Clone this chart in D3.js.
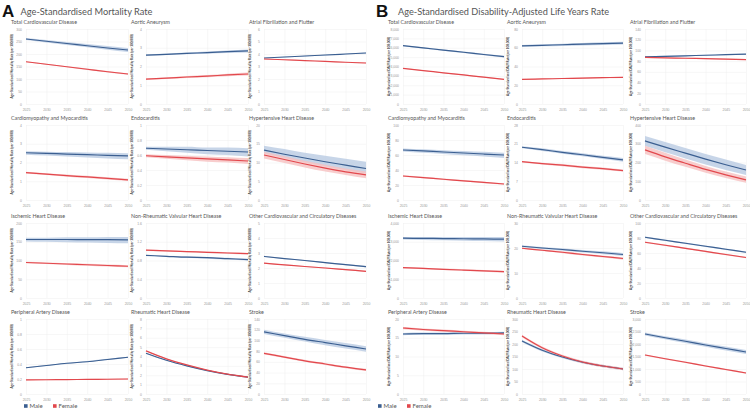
<!DOCTYPE html>
<html>
<head>
<meta charset="utf-8">
<script src="https://cdn.jsdelivr.net/npm/d3@7"></script>
<style>
  body { margin: 0; background: #fff; }
  svg { display: block; font-family: Lato, "Open Sans", sans-serif; }
</style>
</head>
<body>
<svg id="chart" width="750" height="411"></svg>
<script>
const years = [2025, 2030, 2035, 2040, 2045, 2050];

const causes = [
  "Total Cardiovascular Disease", "Aortic Aneurysm", "Atrial Fibrillation and Flutter",
  "Cardiomyopathy and Myocarditis", "Endocarditis", "Hypertensive Heart Disease",
  "Ischemic Heart Disease", "Non-Rheumatic Valvular Heart Disease", "Other Cardiovascular and Circulatory Diseases",
  "Peripheral Artery Disease", "Rheumatic Heart Disease", "Stroke"
];

// Mortality (panel A), y axis max and tick step per cause
const mortYMax  = [300, 4, 6, 4, 1.0, 20, 200, 1.6, 5, 1.0, 8, 140];
const mortYStep = [50, 1, 1, 1, 0.2, 5, 50, 0.4, 1, 0.2, 1, 20];

const mortMale = [
  [260, 251, 242, 233, 224, 216],
  [2.61, 2.65, 2.70, 2.74, 2.79, 2.83],
  [3.68, 3.76, 3.84, 3.92, 4.00, 4.08],
  [2.52, 2.49, 2.45, 2.42, 2.38, 2.35],
  [0.69, 0.68, 0.67, 0.66, 0.65, 0.64],
  [13.3, 12.2, 11.2, 10.2, 9.3, 8.4],
  [156, 156, 156, 155.5, 155.5, 155],
  [0.91, 0.89, 0.87, 0.86, 0.84, 0.82],
  [2.77, 2.63, 2.50, 2.36, 2.22, 2.09],
  [0.35, 0.38, 0.41, 0.43, 0.46, 0.49],
  [4.35, 3.6, 3.0, 2.5, 2.1, 1.8],
  [116, 109, 102, 96, 90, 84]
];
const mortMaleLo = [
  [256, 246, 236, 227, 217, 208],
  [2.57, 2.61, 2.65, 2.68, 2.72, 2.75],
  [3.65, 3.73, 3.81, 3.89, 3.97, 4.04],
  [2.42, 2.37, 2.32, 2.27, 2.22, 2.18],
  [0.67, 0.65, 0.63, 0.61, 0.60, 0.58],
  [12.5, 11.3, 10.1, 9.0, 8.0, 7.1],
  [151, 150, 149, 148, 147, 146],
  [0.90, 0.88, 0.86, 0.84, 0.82, 0.80],
  [2.74, 2.60, 2.46, 2.32, 2.18, 2.04],
  [0.344, 0.372, 0.40, 0.427, 0.454, 0.482],
  [4.30, 3.55, 2.95, 2.45, 2.05, 1.75],
  [112, 105, 98, 91, 85, 79]
];
const mortMaleHi = [
  [264, 256, 248, 240, 232, 224],
  [2.65, 2.70, 2.75, 2.80, 2.86, 2.91],
  [3.71, 3.79, 3.87, 3.95, 4.03, 4.12],
  [2.60, 2.58, 2.56, 2.54, 2.52, 2.50],
  [0.71, 0.71, 0.71, 0.70, 0.70, 0.69],
  [14.5, 13.6, 12.6, 11.8, 11.0, 10.2],
  [161, 161, 162, 162, 163, 163],
  [0.92, 0.90, 0.89, 0.87, 0.86, 0.84],
  [2.80, 2.66, 2.54, 2.40, 2.26, 2.14],
  [0.356, 0.386, 0.414, 0.441, 0.47, 0.498],
  [4.40, 3.65, 3.05, 2.55, 2.15, 1.85],
  [120, 113, 107, 101, 95, 89]
];
const mortFemale = [
  [169, 159, 149, 139, 129, 120],
  [1.33, 1.38, 1.44, 1.49, 1.55, 1.60],
  [3.60, 3.54, 3.47, 3.41, 3.34, 3.28],
  [1.46, 1.38, 1.30, 1.23, 1.15, 1.07],
  [0.59, 0.576, 0.562, 0.548, 0.534, 0.52],
  [12.0, 10.8, 9.6, 8.5, 7.5, 6.7],
  [94.6, 92.6, 90.6, 88.6, 86.6, 84.6],
  [1.02, 1.005, 0.99, 0.975, 0.96, 0.945],
  [2.32, 2.21, 2.10, 2.00, 1.89, 1.78],
  [0.187, 0.19, 0.192, 0.195, 0.197, 0.20],
  [4.6, 3.75, 3.1, 2.55, 2.12, 1.8],
  [76, 69, 62, 56, 50, 45]
];
const mortFemaleLo = [
  [167, 157, 147, 136, 126, 117],
  [1.30, 1.34, 1.39, 1.43, 1.48, 1.52],
  [3.57, 3.51, 3.44, 3.38, 3.31, 3.24],
  [1.41, 1.33, 1.24, 1.17, 1.09, 1.01],
  [0.57, 0.55, 0.53, 0.51, 0.50, 0.48],
  [11.1, 9.9, 8.7, 7.6, 6.7, 5.8],
  [92.6, 90.4, 88.3, 86.1, 84.0, 81.8],
  [1.005, 0.99, 0.975, 0.96, 0.944, 0.928],
  [2.29, 2.18, 2.07, 1.96, 1.85, 1.74],
  [0.181, 0.184, 0.186, 0.189, 0.191, 0.194],
  [4.55, 3.70, 3.05, 2.50, 2.07, 1.75],
  [74, 67, 60, 54, 48, 43]
];
const mortFemaleHi = [
  [171, 161, 151, 142, 132, 123],
  [1.36, 1.42, 1.49, 1.55, 1.62, 1.68],
  [3.63, 3.57, 3.50, 3.44, 3.37, 3.32],
  [1.51, 1.43, 1.36, 1.29, 1.21, 1.13],
  [0.61, 0.60, 0.59, 0.58, 0.57, 0.56],
  [12.9, 11.7, 10.5, 9.4, 8.4, 7.6],
  [96.6, 94.8, 92.9, 91.1, 89.2, 87.4],
  [1.035, 1.02, 1.005, 0.99, 0.976, 0.962],
  [2.35, 2.24, 2.13, 2.04, 1.93, 1.82],
  [0.193, 0.196, 0.198, 0.201, 0.203, 0.206],
  [4.65, 3.80, 3.15, 2.60, 2.17, 1.85],
  [78, 71, 64, 58, 52, 47]
];

// DALYs (panel B)
const dalyYMax  = [8000, 80, 140, 100, 28, 400, 4000, 30, 100, 20, 300, 3000];
const dalyYStep = [1000, 20, 20, 20, 7, 100, 1000, 10, 20, 5, 50, 500];

const dalyMale = [
  [6220, 5990, 5750, 5520, 5280, 5050],
  [62, 62.6, 63.2, 63.8, 64.4, 65],
  [88, 89, 90, 91, 92, 93],
  [66.7, 65.4, 64, 62.7, 61.3, 60],
  [19.7, 18.8, 17.8, 16.9, 15.9, 15],
  [315, 282, 250, 218, 188, 160],
  [3190, 3180, 3170, 3160, 3150, 3140],
  [20.7, 20.0, 19.4, 18.7, 18.1, 17.4],
  [81, 77, 73, 69, 65, 61],
  [16, 16.1, 16.1, 16.2, 16.2, 16.3],
  [212, 175, 148, 127, 112, 100],
  [2400, 2250, 2110, 1960, 1820, 1680]
];
const dalyMaleLo = [
  [6160, 5920, 5680, 5440, 5200, 4960],
  [61, 61.5, 62, 62.5, 63, 63.5],
  [87, 88, 89, 90, 91, 92],
  [64.7, 63, 61.4, 59.7, 58, 56],
  [19.3, 18.3, 17.3, 16.3, 15.3, 14.3],
  [288, 255, 222, 190, 160, 133],
  [3120, 3100, 3080, 3060, 3040, 3020],
  [20.3, 19.6, 18.9, 18.2, 17.5, 16.8],
  [80, 76, 72, 68, 64, 60],
  [15.7, 15.8, 15.8, 15.9, 15.9, 16],
  [207, 170, 143, 122, 107, 95],
  [2340, 2190, 2040, 1890, 1740, 1600]
];
const dalyMaleHi = [
  [6280, 6060, 5820, 5600, 5360, 5140],
  [63, 63.7, 64.4, 65.1, 65.8, 66.5],
  [89, 90, 91, 92, 93, 94],
  [68.7, 67.6, 66.5, 65.4, 64.3, 63],
  [20.1, 19.3, 18.3, 17.5, 16.5, 15.7],
  [342, 310, 278, 246, 216, 187],
  [3260, 3260, 3260, 3260, 3260, 3260],
  [21.1, 20.4, 19.9, 19.2, 18.7, 18],
  [82, 78, 74, 70, 66, 62],
  [16.3, 16.4, 16.4, 16.5, 16.5, 16.6],
  [217, 180, 153, 132, 117, 105],
  [2460, 2310, 2180, 2030, 1900, 1760]
];
const dalyFemale = [
  [3800, 3570, 3330, 3100, 2860, 2630],
  [26.3, 26.7, 27.2, 27.6, 28.1, 28.5],
  [87, 86.2, 85.4, 84.6, 83.8, 83],
  [32, 29.9, 27.7, 25.6, 23.4, 21.3],
  [14.3, 13.6, 13.0, 12.3, 11.7, 11],
  [267, 230, 196, 163, 134, 107],
  [1620, 1580, 1530, 1490, 1450, 1405],
  [19.9, 19.1, 18.3, 17.4, 16.6, 15.8],
  [74.3, 70.3, 66.2, 62.1, 58, 54],
  [17.6, 17.2, 16.9, 16.6, 16.3, 16],
  [232, 185, 152, 128, 112, 100],
  [1560, 1410, 1270, 1120, 980, 840]
];
const dalyFemaleLo = [
  [3760, 3530, 3290, 3050, 2810, 2580],
  [25.8, 26.2, 26.6, 27, 27.4, 27.8],
  [86, 85.2, 84.4, 83.6, 82.8, 82],
  [31, 28.9, 26.7, 24.6, 22.3, 20.2],
  [14, 13.3, 12.6, 11.9, 11.3, 10.6],
  [245, 210, 177, 145, 117, 92],
  [1580, 1540, 1490, 1440, 1400, 1350],
  [19.6, 18.8, 17.9, 17, 16.2, 15.3],
  [73.3, 69.3, 65.2, 61.1, 57, 53],
  [17.3, 16.9, 16.6, 16.3, 16, 15.7],
  [227, 180, 147, 123, 107, 95],
  [1530, 1380, 1240, 1090, 950, 810]
];
const dalyFemaleHi = [
  [3840, 3610, 3370, 3150, 2910, 2680],
  [26.8, 27.2, 27.8, 28.2, 28.8, 29.2],
  [88, 87.2, 86.4, 85.6, 84.8, 84],
  [33, 30.9, 28.7, 26.6, 24.5, 22.4],
  [14.6, 13.9, 13.4, 12.7, 12.1, 11.4],
  [290, 252, 216, 182, 152, 125],
  [1660, 1620, 1570, 1540, 1500, 1460],
  [20.2, 19.4, 18.7, 17.8, 17, 16.3],
  [75.3, 71.3, 67.2, 63.1, 59, 55],
  [17.9, 17.5, 17.2, 16.9, 16.6, 16.3],
  [237, 190, 157, 133, 117, 105],
  [1590, 1440, 1300, 1150, 1010, 870]
];

const maleColor = "#3b5f91", maleBand = "#b9cbe2";
const femaleColor = "#e2484d", femaleBand = "#f6c0c1";

const svg = d3.select("#chart");

function drawPanel(cfg) {
  const g = svg.append("g");
  g.append("text").attr("x", cfg.letterX).attr("y", 16.5)
    .attr("font-size", 17).attr("font-weight", 700).attr("fill", "#111")
    .attr("font-family", "Liberation Sans, Arial, sans-serif")
    .text(cfg.letter);
  g.append("text").attr("x", cfg.headX).attr("y", 14.5)
    .attr("font-size", 10).attr("fill", "#555")
    .attr("textLength", cfg.headW).attr("lengthAdjust", "spacingAndGlyphs")
    .text(cfg.heading);

  const rowTops = [29, 125, 223, 319];
  const h = 75;

  causes.forEach((name, i) => {
    const col = i % 3, row = Math.floor(i / 3);
    const left = cfg.lefts[col], top = rowTops[row], w = cfg.width;
    const x = d3.scaleLinear().domain([years[0], years[years.length - 1]]).range([left, left + w]);
    const y = d3.scaleLinear().domain([0, cfg.yMax[i]]).range([top + h, top]);
    const yTicks = d3.range(0, cfg.yMax[i] + cfg.yStep[i] / 2, cfg.yStep[i]);

    const cell = g.append("g");
    cell.append("text").attr("x", left - 15).attr("y", top - 5.5)
      .attr("font-size", 5.3).attr("fill", "#555").text(name);

    // grid
    cell.append("g").attr("transform", `translate(0,${top + h})`)
      .call(d3.axisBottom(x).tickValues(years).tickSize(-h).tickFormat(d3.format("d")))
      .call(a => a.select(".domain").remove())
      .call(a => a.selectAll("line").attr("stroke", "#efefef").attr("stroke-width", 0.5))
      .call(a => a.selectAll("text").attr("font-size", 3.4).attr("fill", "#999").attr("dy", 4));
    cell.append("g").attr("transform", `translate(${left},0)`)
      .call(d3.axisLeft(y).tickValues(yTicks).tickSize(-w)
        .tickFormat(cfg.yMax[i] >= 1000 ? d3.format(",") : d3.format("~g")))
      .call(a => a.select(".domain").remove())
      .call(a => a.selectAll("line").attr("stroke", "#efefef").attr("stroke-width", 0.5))
      .call(a => a.selectAll("text").attr("font-size", 3.4).attr("fill", "#999").attr("dx", -1));

    cell.append("text")
      .attr("transform", `translate(${left - 13},${top + h / 2}) rotate(-90)`)
      .attr("text-anchor", "middle").attr("font-size", 3.1).attr("font-weight", 700)
      .attr("fill", "#333").text(cfg.yLabel);

    const series = [
      { mean: cfg.male[i], lo: cfg.maleLo[i], hi: cfg.maleHi[i], c: maleColor, b: maleBand },
      { mean: cfg.female[i], lo: cfg.femaleLo[i], hi: cfg.femaleHi[i], c: femaleColor, b: femaleBand }
    ];
    const area = d3.area().curve(d3.curveMonotoneX)
      .x((d, j) => x(years[j])).y0(d => y(d[0])).y1(d => y(d[1]));
    const line = d3.line().curve(d3.curveMonotoneX)
      .x((d, j) => x(years[j])).y(d => y(d));
    series.forEach(s => {
      cell.append("path").datum(s.lo.map((v, j) => [v, s.hi[j]]))
        .attr("d", area).attr("fill", s.b).attr("fill-opacity", 0.8);
    });
    series.forEach(s => {
      cell.append("path").datum(s.mean).attr("d", line)
        .attr("fill", "none").attr("stroke", s.c).attr("stroke-width", 1.2);
    });
  });

  // legend
  const lg = g.append("g").attr("transform", `translate(${cfg.legendX},408)`);
  [["Male", maleColor], ["Female", femaleColor]].forEach(([t, c], k) => {
    lg.append("rect").attr("x", k * 29).attr("y", -3.8).attr("width", 3.6).attr("height", 3.6).attr("fill", c);
    lg.append("text").attr("x", k * 29 + 5.5).attr("y", 0).attr("font-size", 6).attr("fill", "#555").text(t);
  });
}

drawPanel({
  letter: "A", letterX: 2, headX: 20.5, headW: 132, legendX: 24,
  heading: "Age-Standardised Mortality Rate",
  lefts: [26, 146, 264], width: 102,
  yLabel: "Age-Standardised Mortality Rate (per 100,000)",
  yMax: mortYMax, yStep: mortYStep,
  male: mortMale, maleLo: mortMaleLo, maleHi: mortMaleHi,
  female: mortFemale, femaleLo: mortFemaleLo, femaleHi: mortFemaleHi
});
drawPanel({
  letter: "B", letterX: 376, headX: 398, headW: 211, legendX: 378,
  heading: "Age-Standardised Disability-Adjusted Life Years Rate",
  lefts: [403, 522, 645], width: 101,
  yLabel: "Age-Standardised DALY Rate (per 100,000)",
  yMax: dalyYMax, yStep: dalyYStep,
  male: dalyMale, maleLo: dalyMaleLo, maleHi: dalyMaleHi,
  female: dalyFemale, femaleLo: dalyFemaleLo, femaleHi: dalyFemaleHi
});
</script>
</body>
</html>
